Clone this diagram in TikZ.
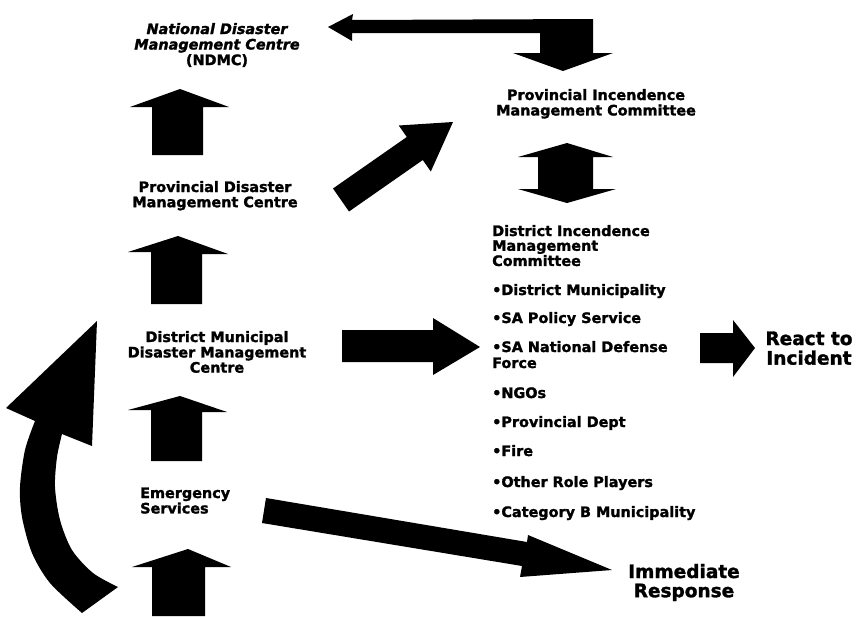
\documentclass[tikz,border=0pt]{standalone}
\usepackage{fontspec}
\setmainfont{DejaVu Sans}[BoldFeatures={FakeBold=1.6}, BoldItalicFeatures={FakeBold=1.6}]
\newcommand\txtblock[2]{\begin{tabular}[t]{@{}#1@{}}#2\end{tabular}}
\begin{document}
\begin{tikzpicture}[x=1pt,y=-1pt,
  blockarrow/.style={fill=black},
  lbl/.style={inner sep=0pt, anchor=base, font=\bfseries\fontsize{14.4}{15}\selectfont},
  lblw/.style={lbl, anchor=base west},
  big/.style={inner sep=0pt, anchor=base, font=\bfseries\fontsize{18.5}{18.5}\selectfont}]
\useasboundingbox (0,0) rectangle (857,616);

% ---- text blocks ----
\node[lbl, font=\bfseries\itshape\fontsize{14.4}{15.5}\selectfont] (ndmc) at (217,34)
  {\txtblock{c}{National Disaster\\Management Centre\\\upshape(NDMC)}};
\node[lbl] (pdmc) at (215,192) {\txtblock{c}{Provincial Disaster\\Management Centre}};
\node[lbl] (dmdmc) at (217,342) {\txtblock{c}{District Municipal\\Disaster Management\\Centre}};
\node[lblw] (emerg) at (140,498) {\txtblock{l}{Emergency\\Services}};
\node[lbl] (pimc) at (596,100) {\txtblock{c}{Provincial Incendence\\Management Committee}};
\node[lblw, font=\bfseries\fontsize{14.4}{14.2}\selectfont] (dimc) at (492,236)
  {\txtblock{l}{District Incendence\\Management\\Committee}};
\node[lblw] (d1) at (492,295) {•District Municipality};
\node[lblw] (d2) at (492,323) {•SA Policy Service};
\node[lblw, font=\bfseries\fontsize{14.4}{16}\selectfont] (d3) at (492,352) {\txtblock{l}{•SA National Defense\\Force}};
\node[lblw] (d4) at (492,398) {•NGOs};
\node[lblw] (d5) at (492,427) {•Provincial Dept};
\node[lblw] (d6) at (492,456) {•Fire};
\node[lblw] (d7) at (492,487) {•Other Role Players};
\node[lblw] (d8) at (492,517) {•Category B Municipality};
\node[big] (react) at (809,345) {\txtblock{c}{React to\\Incident}};
\node[big, font=\bfseries\fontsize{18.5}{19}\selectfont] (immed) at (684,578) {\txtblock{c}{Immediate\\Response}};

% ---- vertical up arrows ----
\fill[blockarrow] (152,155) -- (152,107) -- (130,107) -- (180,89) -- (229,107) -- (203,107) -- (203,155) -- cycle;
\fill[blockarrow] (151,304) -- (151,252) -- (128,252) -- (178,236) -- (228,254) -- (202,254) -- (202,304) -- cycle;
\fill[blockarrow] (151,461) -- (151,410) -- (128,410) -- (180,396) -- (227,412) -- (202,412) -- (202,461) -- cycle;
\fill[blockarrow] (152,616) -- (152,567) -- (132,567) -- (188,549) -- (231,567) -- (205,567) -- (205,616) -- cycle;

% ---- NDMC <- -> PIMC bent arrow ----
\fill[blockarrow] (328,27) -- (353,14) -- (352,20) -- (593,19) -- (593,53) -- (613,53)
  -- (563,71) -- (513,53) -- (540,53) -- (540,33) -- (352,33) -- (352,41) -- cycle;

% ---- diagonal arrow PDMC -> PIMC ----
\fill[blockarrow] (333,188.5) -- (406.8,137) -- (398.8,125.5) -- (453,122) -- (430.8,171.5)
  -- (422.8,160) -- (349,211.5) -- cycle;

% ---- double arrow PIMC <-> DIMC ----
\fill[blockarrow] (567,143) -- (613,157) -- (593,157) -- (593,189) -- (616,189) -- (567,203)
  -- (518,189) -- (538,189) -- (538,157) -- (518,157) -- cycle;

% ---- right arrow DMDMC -> DIMC ----
\fill[blockarrow] (342,330) -- (433,330) -- (433,318) -- (480,347) -- (433,375) -- (433,362) -- (342,362) -- cycle;

% ---- react arrow ----
\fill[blockarrow] (700,333) -- (733,333) -- (733,320) -- (755,348) -- (733,377) -- (733,363) -- (700,363) -- cycle;

% ---- emergency -> immediate response ----
\fill[blockarrow] (266,498) -- (527,542) -- (528,535) -- (612,570) -- (520,577) -- (522,566) -- (262,523) -- cycle;

% ---- curved arrow on the left ----
\fill[blockarrow] plot[smooth] coordinates {(35,421) (25,450) (20,487) (22,517) (32,553) (50,583) (82,613)}
  -- plot[smooth] coordinates {(118,587) (93,573) (72,550) (60,520) (55,487) (57,457) (62,434)}
  -- (92,446) -- (97,321) -- (6,408) -- cycle;
\end{tikzpicture}
\end{document}
